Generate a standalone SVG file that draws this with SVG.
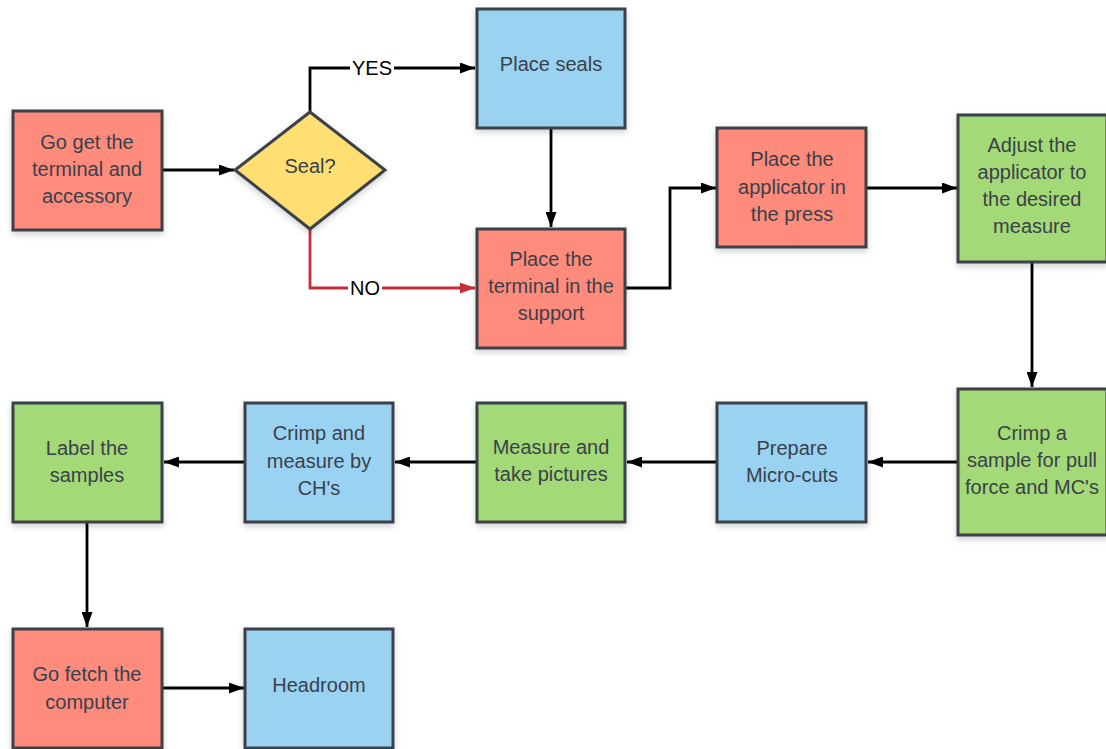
<svg xmlns="http://www.w3.org/2000/svg" width="1106" height="749" viewBox="0 0 1106 749">
<defs>
<filter id="sh" x="-10%" y="-10%" width="130%" height="130%">
<feDropShadow dx="0" dy="3" stdDeviation="3" flood-color="#000" flood-opacity="0.18"/>
</filter>
<marker id="ab" viewBox="0 0 15 11" refX="15" refY="5.5" markerWidth="15" markerHeight="11" markerUnits="userSpaceOnUse" orient="auto">
<path d="M0,0 L15,5.5 L0,11 Z" fill="#000"/>
</marker>
<marker id="ar" viewBox="0 0 15 11" refX="15" refY="5.5" markerWidth="15" markerHeight="11" markerUnits="userSpaceOnUse" orient="auto">
<path d="M0,0 L15,5.5 L0,11 Z" fill="#c92d39"/>
</marker>
</defs>
<style>
.n{stroke:#3a414a;stroke-width:3;filter:url(#sh)}
.r{fill:#ff8b7c}.b{fill:#9ad2f2}.g{fill:#a3d977}.y{fill:#ffdf71}
text{font-family:"Liberation Sans",Arial,sans-serif;font-size:20px;fill:#3a414a;text-anchor:middle}
.c{fill:none;stroke:#000;stroke-width:2.8;marker-end:url(#ab)}
.cr{fill:none;stroke:#c92d39;stroke-width:2.8;marker-end:url(#ar)}
.lbl{fill:#000;font-size:20px}
</style>
<rect width="1106" height="749" fill="#fff"/>
<g id="connectors">
<path class="c" d="M162,170 L234,170"/>
<path class="c" d="M310,112 L310,68 L475,68"/>
<path class="cr" d="M310,229 L310,288 L475,288"/>
<path class="c" d="M551,128 L551,227"/>
<path class="c" d="M626,288 L670,288 L670,188 L716,188"/>
<path class="c" d="M867,188 L957,188"/>
<path class="c" d="M1032,263 L1032,387"/>
<path class="c" d="M958,462 L868,462"/>
<path class="c" d="M716,462 L627,462"/>
<path class="c" d="M476,462 L395,462"/>
<path class="c" d="M245,462 L164,462"/>
<path class="c" d="M87,523 L87,627"/>
<path class="c" d="M162,688 L244,688"/>
<rect x="350" y="56" width="44" height="22" fill="#fff"/>
<text class="lbl" x="372" y="75">YES</text>
<rect x="348" y="276" width="34" height="22" fill="#fff"/>
<text class="lbl" x="365" y="295">NO</text>
</g>
<g id="n1"><rect class="n r" x="13" y="111" width="149" height="119"/><text x="87" y="149">Go get the</text><text x="87" y="176">terminal and</text><text x="87" y="203">accessory</text></g>
<g id="n2"><polygon class="n y" points="310,112 385,170 310,229 235,170"/><text x="310" y="173">Seal?</text></g>
<g id="n3"><rect class="n b" x="477" y="9" width="148" height="119"/><text x="551" y="71">Place seals</text></g>
<g id="n4"><rect class="n r" x="477" y="229" width="148" height="119"/><text x="551" y="266">Place the</text><text x="551" y="293">terminal in the</text><text x="551" y="320">support</text></g>
<g id="n5"><rect class="n r" x="717" y="128" width="149" height="119"/><text x="792" y="166">Place the</text><text x="792" y="194">applicator in</text><text x="792" y="221">the press</text></g>
<g id="n6"><rect class="n g" x="958" y="115" width="149" height="147"/><text x="1032" y="152">Adjust the</text><text x="1032" y="179">applicator to</text><text x="1032" y="206">the desired</text><text x="1032" y="233">measure</text></g>
<g id="n7"><rect class="n g" x="958" y="389" width="149" height="146"/><text x="1032" y="440">Crimp a</text><text x="1032" y="467">sample for pull</text><text x="1032" y="494">force and MC's</text></g>
<g id="n8"><rect class="n b" x="717" y="403" width="149" height="119"/><text x="792" y="455">Prepare</text><text x="792" y="482">Micro-cuts</text></g>
<g id="n9"><rect class="n g" x="477" y="403" width="148" height="119"/><text x="551" y="454">Measure and</text><text x="551" y="481">take pictures</text></g>
<g id="n10"><rect class="n b" x="245" y="403" width="148" height="119"/><text x="319" y="440">Crimp and</text><text x="319" y="468">measure by</text><text x="319" y="495">CH's</text></g>
<g id="n11"><rect class="n g" x="13" y="403" width="149" height="119"/><text x="87" y="455">Label the</text><text x="87" y="482">samples</text></g>
<g id="n12"><rect class="n r" x="13" y="629" width="149" height="119"/><text x="87" y="681">Go fetch the</text><text x="87" y="709">computer</text></g>
<g id="n13"><rect class="n b" x="245" y="629" width="148" height="119"/><text x="319" y="692">Headroom</text></g>
</svg>
